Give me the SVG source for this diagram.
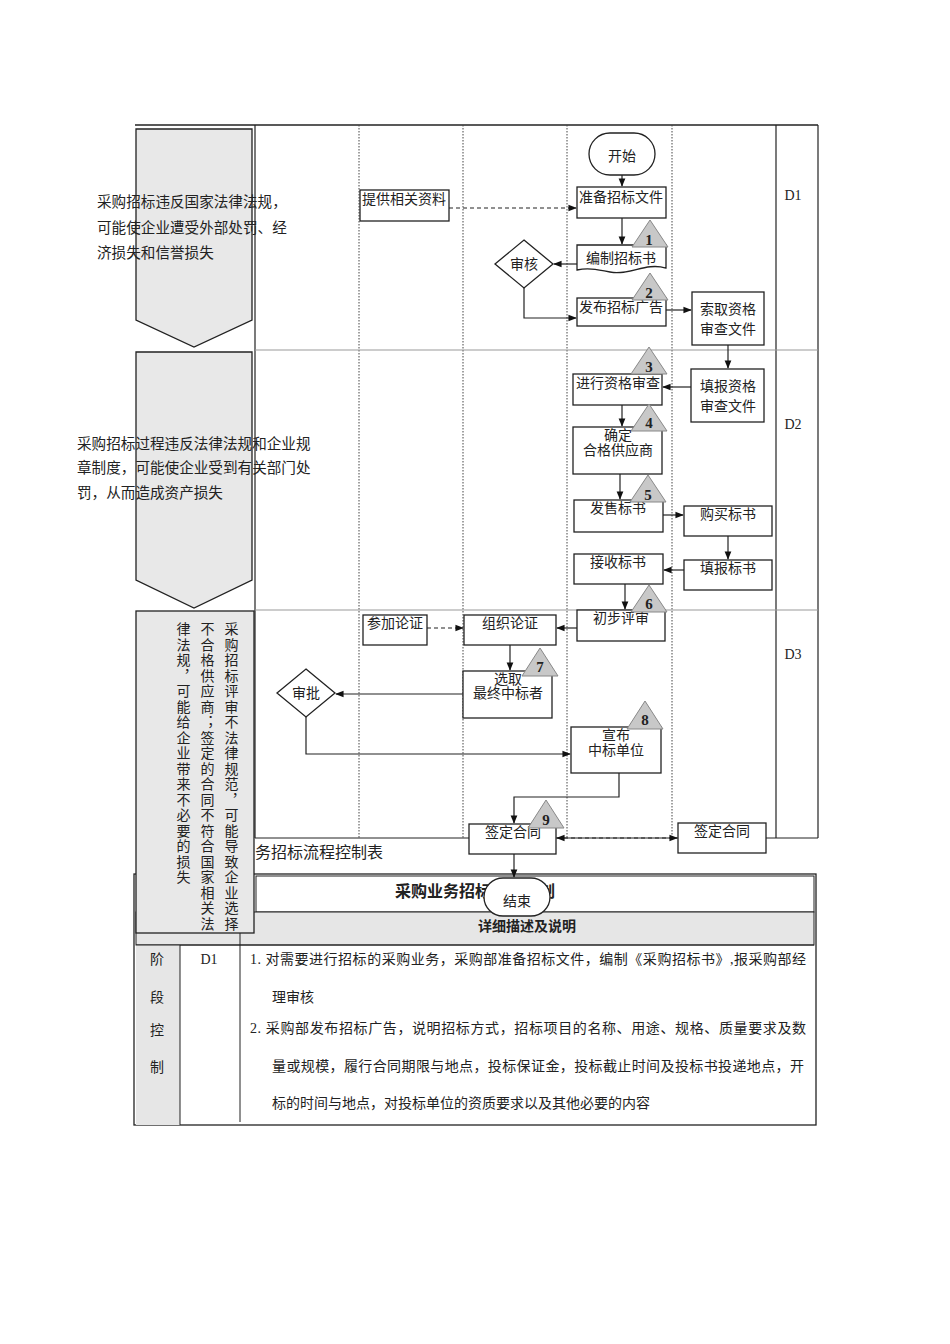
<svg xmlns="http://www.w3.org/2000/svg" width="950" height="1344" viewBox="0 0 950 1344">
<style>
text{font-family:"Liberation Serif","Noto Sans CJK SC",serif;font-size:14px;fill:#222}
.b{fill:#fff;stroke:#222;stroke-width:1.3}
.tri{fill:#c8c8c8;stroke:#888;stroke-width:1}
.n{font-weight:bold;font-size:15px;text-anchor:middle}
.c{text-anchor:middle}
.r{font-size:14.6px}
.ln{stroke:#222;stroke-width:1.2;fill:none}
.dot{stroke:#444;stroke-width:1;stroke-dasharray:1.5,1.5}
.gr{stroke:#999;stroke-width:1.2}
.side{fill:#e8e8e8;stroke:#222;stroke-width:1.3}
.v{writing-mode:vertical-rl;font-size:14px;letter-spacing:1.5px}
</style>
<defs>
<marker id="a" viewBox="0 0 10 10" refX="9" refY="5" markerWidth="7" markerHeight="7" orient="auto-start-reverse"><path d="M0,1 L10,5 L0,9 z" fill="#111"/></marker>
</defs>
<rect width="950" height="1344" fill="#fff"/>
<g id="frame">
<line x1="135" y1="125" x2="818" y2="125" stroke="#222" stroke-width="1.5"/>
<line x1="818" y1="125" x2="818" y2="838" stroke="#222" stroke-width="1.2"/>
<line x1="255" y1="125" x2="255" y2="838" stroke="#222" stroke-width="1.2"/>
<line x1="776" y1="125" x2="776" y2="838" stroke="#222" stroke-width="1.2"/>
<line class="dot" x1="359" y1="125" x2="359" y2="838"/>
<line class="dot" x1="463" y1="125" x2="463" y2="838"/>
<line class="dot" x1="567" y1="125" x2="567" y2="838"/>
<line class="dot" x1="672" y1="125" x2="672" y2="838"/>
<line class="gr" x1="255" y1="350" x2="818" y2="350"/>
<line class="gr" x1="255" y1="610" x2="818" y2="610"/>
<line x1="255" y1="838" x2="818" y2="838" stroke="#222" stroke-width="1"/>
<text x="793" y="200" class="c">D1</text>
<text x="793" y="429" class="c">D2</text>
<text x="793" y="659" class="c">D3</text>
</g>
<g id="risk1">
<polygon class="side" points="136,129 252,129 252,320 194,347 136,320"/>
<text x="97" y="207" class="r">采购招标违反国家法律法规，</text>
<text x="97" y="233" class="r">可能使企业遭受外部处罚、经</text>
<text x="97" y="258" class="r">济损失和信誉损失</text>
</g>
<g id="risk2">
<polygon class="side" points="136,352 252,352 252,580 194,608 136,580"/>
<text x="77" y="449" class="r">采购招标过程违反法律法规和企业规</text>
<text x="77" y="473" class="r">章制度，可能使企业受到有关部门处</text>
<text x="77" y="498" class="r">罚，从而造成资产损失</text>
</g>
<g id="table">
<text x="255" y="858" style="font-size:16px">务招标流程控制表</text>
<rect x="134" y="874" width="682" height="251" fill="#fff" stroke="#222" stroke-width="1.3"/>
<rect x="256" y="876" width="558" height="36" fill="#fff" stroke="#222" stroke-width="1"/>
<rect x="136" y="912" width="678" height="33" fill="#e6e6e6" stroke="#222" stroke-width="1"/>
<rect x="136" y="945" width="44" height="180" fill="#e6e6e6"/>
<line x1="180" y1="945" x2="180" y2="1125" stroke="#222"/>
<line x1="240" y1="912" x2="240" y2="1122" stroke="#222"/>
<line x1="136" y1="945" x2="814" y2="945" stroke="#222"/>
<text x="475" y="897" style="font-family:'Liberation Sans','Noto Sans CJK SC',sans-serif;font-weight:bold;font-size:16px" class="c">采购业务招标流程控制</text>
<text x="527" y="931" style="font-family:'Liberation Sans','Noto Sans CJK SC',sans-serif;font-weight:bold" class="c">详细描述及说明</text>
<text x="157" y="964" class="c">阶</text>
<text x="157" y="1002" class="c">段</text>
<text x="157" y="1035" class="c">控</text>
<text x="157" y="1072" class="c">制</text>
<text x="209" y="964" class="c">D1</text>
<text x="250" y="964" textLength="556">1. 对需要进行招标的采购业务，采购部准备招标文件，编制《采购招标书》,报采购部经</text>
<text x="272" y="1002">理审核</text>
<text x="250" y="1033" textLength="556">2. 采购部发布招标广告，说明招标方式，招标项目的名称、用途、规格、质量要求及数</text>
<text x="272" y="1071" textLength="532">量或规模，履行合同期限与地点，投标保证金，投标截止时间及投标书投递地点，开</text>
<text x="272" y="1108">标的时间与地点，对投标单位的资质要求以及其他必要的内容</text>
</g>
<g id="risk3">
<rect class="side" x="136" y="611" width="118" height="322"/>
<text x="230" y="622" class="v">采购招标评审不法律规范，可能导致企业选择</text>
<text x="206" y="622" class="v">不合格供应商；签定的合同不符合国家相关法</text>
<text x="182" y="622" class="v">律法规，可能给企业带来不必要的损失</text>
</g>
<g id="connectors">
<line class="ln" x1="622" y1="175" x2="622" y2="186" marker-end="url(#a)"/>
<line class="ln" x1="449" y1="208" x2="576" y2="208" stroke-dasharray="4,3" marker-end="url(#a)"/>
<line class="ln" x1="622" y1="218" x2="622" y2="244" marker-end="url(#a)"/>
<line class="ln" x1="577" y1="264" x2="554" y2="264" marker-end="url(#a)"/>
<polyline class="ln" points="524,288 524,318 576,318" marker-end="url(#a)"/>
<line class="ln" x1="666" y1="310" x2="691" y2="310" marker-end="url(#a)"/>
<line class="ln" x1="728" y1="345" x2="728" y2="368" marker-end="url(#a)"/>
<line class="ln" x1="691" y1="387" x2="663" y2="387" marker-end="url(#a)"/>
<line class="ln" x1="622" y1="405" x2="622" y2="426" marker-end="url(#a)"/>
<line class="ln" x1="620" y1="474" x2="620" y2="499" marker-end="url(#a)"/>
<line class="ln" x1="663" y1="515" x2="683" y2="515" marker-end="url(#a)"/>
<line class="ln" x1="728" y1="536" x2="728" y2="559" marker-end="url(#a)"/>
<line class="ln" x1="684" y1="570" x2="664" y2="570" marker-end="url(#a)"/>
<line class="ln" x1="625" y1="584" x2="625" y2="609" marker-end="url(#a)"/>
<line class="ln" x1="577" y1="628" x2="557" y2="628" marker-end="url(#a)"/>
<line class="ln" x1="427" y1="628" x2="463" y2="628" stroke-dasharray="4,3" marker-end="url(#a)"/>
<line class="ln" x1="510" y1="645" x2="510" y2="670" marker-end="url(#a)"/>
<line class="ln" x1="463" y1="694" x2="336" y2="694" marker-end="url(#a)"/>
<polyline class="ln" points="306,717 306,754 570,754" marker-end="url(#a)"/>
<polyline class="ln" points="619,773 619,797 514,797 514,823" marker-end="url(#a)"/>
<line class="ln" x1="557" y1="838" x2="677" y2="838" stroke-dasharray="4,3" marker-start="url(#a)" marker-end="url(#a)"/>
<line class="ln" x1="514" y1="854" x2="514" y2="877" marker-end="url(#a)"/>
</g>
<g id="start"><rect class="b" x="589" y="133" width="66" height="42" rx="21"/><text x="622" y="161" class="c">开始</text></g>
<g id="provide"><rect class="b" x="360" y="190" width="89" height="31"/><text x="404" y="204" class="c">提供相关资料</text></g>
<g id="prepare"><rect class="b" x="577" y="187" width="89" height="31"/><text x="621" y="202" class="c">准备招标文件</text></g>
<g id="compile"><path class="b" d="M577,245 H666 V268 C645,262 630,276 610,272 C595,269 587,268 577,270 Z"/><text x="621" y="263" class="c">编制招标书</text></g>
<g id="review"><polygon class="b" points="524,240 553,264 524,288 495,264"/><text x="524" y="269" class="c">审核</text></g>
<g id="publish"><rect class="b" x="577" y="298" width="89" height="28"/><text x="621" y="312" class="c">发布招标广告</text></g>
<g id="request"><rect class="b" x="692" y="292" width="72" height="53"/><text x="728" y="314" class="c">索取资格</text><text x="728" y="334" class="c">审查文件</text></g>
<g id="qualify"><rect class="b" x="573" y="374" width="89" height="31"/><text x="618" y="388" class="c">进行资格审查</text></g>
<g id="fillq"><rect class="b" x="691" y="369" width="73" height="53"/><text x="728" y="391" class="c">填报资格</text><text x="728" y="411" class="c">审查文件</text></g>
<g id="confirm"><rect class="b" x="573" y="427" width="89" height="47"/><text x="618" y="440" class="c">确定</text><text x="618" y="455" class="c">合格供应商</text></g>
<g id="sell"><rect class="b" x="574" y="500" width="89" height="32"/><text x="618" y="513" class="c">发售标书</text></g>
<g id="buy"><rect class="b" x="684" y="506" width="88" height="30"/><text x="728" y="519" class="c">购买标书</text></g>
<g id="receive"><rect class="b" x="574" y="554" width="89" height="30"/><text x="618" y="567" class="c">接收标书</text></g>
<g id="fillbid"><rect class="b" x="684" y="560" width="88" height="30"/><text x="728" y="573" class="c">填报标书</text></g>
<g id="prelim"><rect class="b" x="577" y="610" width="88" height="31"/><text x="621" y="623" class="c">初步评审</text></g>
<g id="join"><rect class="b" x="363" y="615" width="64" height="30"/><text x="395" y="628" class="c">参加论证</text></g>
<g id="organize"><rect class="b" x="464" y="615" width="92" height="30"/><text x="510" y="628" class="c">组织论证</text></g>
<g id="select"><rect class="b" x="463" y="671" width="89" height="47"/><text x="508" y="684" class="c">选取</text><text x="508" y="698" class="c">最终中标者</text></g>
<g id="approve"><polygon class="b" points="306,669 335,693 306,717 277,693"/><text x="306" y="698" class="c">审批</text></g>
<g id="announce"><rect class="b" x="571" y="727" width="90" height="46"/><text x="616" y="740" class="c">宣布</text><text x="616" y="755" class="c">中标单位</text></g>
<g id="sign1"><rect class="b" x="469" y="824" width="87" height="30"/><text x="513" y="837" class="c">签定合同</text></g>
<g id="sign2"><rect class="b" x="678" y="823" width="88" height="30"/><text x="722" y="836" class="c">签定合同</text></g>
<g id="end"><rect class="b" x="484" y="878" width="66" height="38" rx="19"/><text x="517" y="906" class="c">结束</text></g>
<g id="triangles">
<polygon class="tri" points="650,220 632,247 668,247"/><text x="649" y="245" class="n">1</text>
<polygon class="tri" points="650,273 632,300 668,300"/><text x="649" y="298" class="n">2</text>
<polygon class="tri" points="649,347 631,374 667,374"/><text x="649" y="372" class="n">3</text>
<polygon class="tri" points="649,404 631,431 667,431"/><text x="649" y="428" class="n">4</text>
<polygon class="tri" points="648,475 630,502 666,502"/><text x="648" y="500" class="n">5</text>
<polygon class="tri" points="649,585 631,612 667,612"/><text x="649" y="609" class="n">6</text>
<polygon class="tri" points="540,648 522,676 558,676"/><text x="540" y="672" class="n">7</text>
<polygon class="tri" points="645,701 627,729 663,729"/><text x="645" y="725" class="n">8</text>
<polygon class="tri" points="546,800 528,828 564,828"/><text x="546" y="825" class="n">9</text>
</g>
</svg>
